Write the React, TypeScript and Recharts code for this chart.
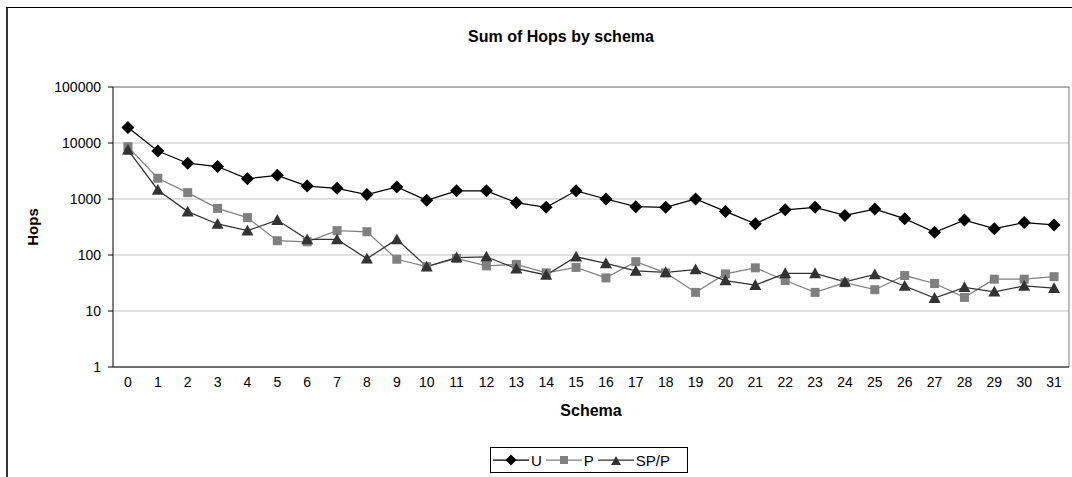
import { LineChart, Line, XAxis, YAxis, CartesianGrid, Label, ReferenceLine } from "recharts";

const schemas = Array.from({ length: 32 }, (_, i) => i);
const uHops = [19000, 7200, 4350, 3800, 2300, 2650, 1700, 1550, 1200, 1640, 950, 1400, 1400, 860, 710, 1400, 1000, 730, 710, 1000, 600, 360, 640, 710, 510, 660, 445, 255, 420, 295, 380, 345];
const pHops = [8600, 2350, 1300, 680, 465, 180, 172, 272, 260, 84, 62, 87, 64, 68, 48, 60, 39, 76, 48, 21.5, 46, 59, 35, 21.5, 32, 24, 43, 31, 17.5, 37, 37, 41];
const spHops = [7500, 1450, 595, 358, 272, 420, 190, 190, 86, 190, 62, 90, 93, 57, 44, 93, 71, 52, 49, 55, 35, 29, 47, 47, 33, 45, 28, 17, 26.5, 22, 28, 25.5];
const yTicks = [1, 10, 100, 1000, 10000, 100000];
const edgeTicks = Array.from({ length: 33 }, (_, i) => i - 0.5);

const data = schemas.map((s, i) => ({ schema: s, U: uHops[i], P: pHops[i], SP: spHops[i] }));

const font = "Arial, 'Liberation Sans', sans-serif";

function Diamond({ cx, cy, r = 6.5 }: any) {
  return <polygon points={`${cx},${cy - r} ${cx + r},${cy} ${cx},${cy + r} ${cx - r},${cy}`} fill="#000" />;
}
function Square({ cx, cy, s = 4.5 }: any) {
  return <rect x={cx - s} y={cy - s} width={s * 2} height={s * 2} fill="#808080" />;
}
function Triangle({ cx, cy, s = 6 }: any) {
  return <polygon points={`${cx},${cy - s} ${cx + s},${cy + s * 0.8} ${cx - s},${cy + s * 0.8}`} fill="#333" />;
}

function LegendItem({ label, color, children }: any) {
  return (
    <div style={{ display: "flex", alignItems: "center", marginRight: 4 }}>
      <svg width={36} height={16}>
        <line x1={0} y1={8} x2={36} y2={8} stroke={color} strokeWidth={1.25} />
        {children}
      </svg>
      <span style={{ marginLeft: 2 }}>{label}</span>
    </div>
  );
}

export default function App() {
  return (
    <div style={{ position: "absolute", left: 0, top: 0, width: 1072, height: 477, overflow: "hidden", background: "#fff", fontFamily: font }}>
      {/* outer chart border, runs off the right and bottom */}
      <div style={{ position: "absolute", left: 6, top: 7, width: 1200, height: 600, borderTop: "1px solid #000", borderLeft: "2px solid #333" }}></div>

      {/* Title */}
      <div style={{ position: "absolute", left: 361, top: 28, width: 400, textAlign: "center", fontWeight: "bold", fontSize: 16, lineHeight: "18px" }}>
        Sum of Hops by schema
      </div>

      <div style={{ position: "absolute", left: 0, top: 0 }}>
        <LineChart width={1072} height={477} data={data} margin={{ top: 87, right: 3, bottom: 59, left: 0 }}>
          <CartesianGrid vertical={false} stroke="#c0c0c0" />
          <XAxis
            xAxisId="edges"
            dataKey="schema"
            type="number"
            domain={[-0.5, 31.5]}
            ticks={edgeTicks}
            interval={0}
            tick={false}
            tickSize={5}
            height={6}
            axisLine={{ stroke: "#000" }}
            tickLine={{ stroke: "#000" }}
          />
          <XAxis
            xAxisId="labels"
            dataKey="schema"
            type="number"
            domain={[-0.5, 31.5]}
            ticks={schemas}
            interval={0}
            axisLine={false}
            tickLine={false}
            tickSize={0}
            tickMargin={4}
            height={45}
            tick={{ fontSize: 14, fill: "#000", fontFamily: font }}
          >
            <Label value="Schema" position="insideBottom" offset={2} style={{ fontWeight: "bold", fontSize: 16, fill: "#000", fontFamily: font }} />
          </XAxis>
          <YAxis
            scale="log"
            domain={[1, 100000]}
            ticks={yTicks}
            interval={0}
            allowDataOverflow
            width={113}
            tickSize={5}
            tickMargin={7}
            axisLine={{ stroke: "#000" }}
            tickLine={{ stroke: "#000" }}
            tick={{ fontSize: 14, fill: "#000", fontFamily: font }}
          >
            <Label value="Hops" angle={-90} position="insideLeft" offset={33} style={{ textAnchor: "middle", fontWeight: "bold", fontSize: 15, fill: "#000", fontFamily: font }} />
          </YAxis>
          <ReferenceLine xAxisId="edges" x={31.5} stroke="#808080" />
          <ReferenceLine xAxisId="edges" y={100000} stroke="#808080" />
          <Line xAxisId="edges" dataKey="U" stroke="#000" strokeWidth={1.25} isAnimationActive={false}
            dot={(p: any) => <Diamond key={`u${p.index}`} cx={p.cx} cy={p.cy} />} />
          <Line xAxisId="edges" dataKey="P" stroke="#808080" strokeWidth={1.25} isAnimationActive={false}
            dot={(p: any) => <Square key={`p${p.index}`} cx={p.cx} cy={p.cy} />} />
          <Line xAxisId="edges" dataKey="SP" stroke="#333" strokeWidth={1.25} isAnimationActive={false}
            dot={(p: any) => <Triangle key={`s${p.index}`} cx={p.cx} cy={p.cy} />} />
        </LineChart>
      </div>

      {/* Legend */}
      <div style={{ position: "absolute", left: 490, top: 447, width: 198, height: 26, boxSizing: "border-box", border: "1px solid #000", display: "flex", alignItems: "center", paddingLeft: 2, fontSize: 15 }}>
        <LegendItem label="U" color="#000"><Diamond cx={18} cy={8} r={5.5} /></LegendItem>
        <LegendItem label="P" color="#808080"><Square cx={18} cy={8} s={4} /></LegendItem>
        <LegendItem label="SP/P" color="#333"><Triangle cx={18} cy={9} s={5} /></LegendItem>
      </div>
    </div>
  );
}
